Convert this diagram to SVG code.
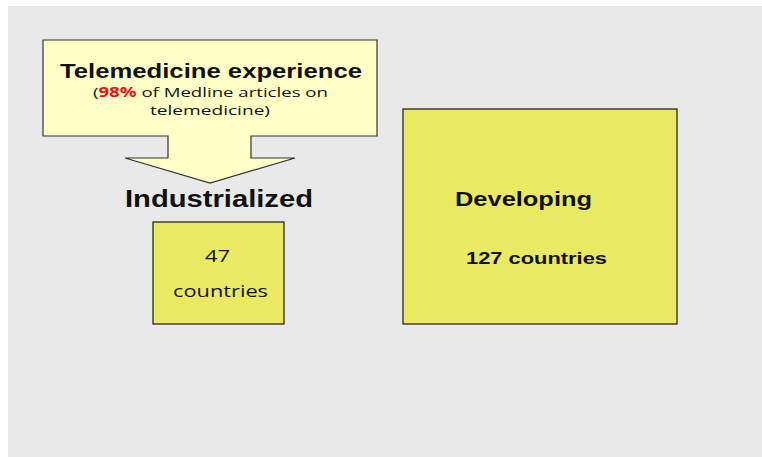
<svg xmlns="http://www.w3.org/2000/svg" width="762" height="457" viewBox="0 0 762 457">
<style>
.box{fill:#E9EA61;stroke:#1a1a1a;stroke-width:1.2}
.callout{fill:#FFFFC6;stroke:#333;stroke-width:1.2}
.t{font-family:"Open Sans","Liberation Sans",sans-serif;fill:#111}
.b{font-family:"Liberation Sans",Arial,sans-serif;font-weight:bold;fill:#111}
</style>
<rect x="0" y="0" width="762" height="457" fill="#ffffff"/>
<rect x="8" y="6" width="754" height="451" fill="#E9E9E9"/>
<g id="callout">
<path class="callout" d="M43,40 H377 V136 H251 V158 H295 L210,183 L125,158 H168 V136 H43 Z"/>
<text class="b" x="60" y="78" font-size="21" textLength="302" lengthAdjust="spacingAndGlyphs">Telemedicine experience</text>
<text class="t" x="93" y="97" font-size="13.5" textLength="235" lengthAdjust="spacingAndGlyphs">(<tspan fill="#ee1111" font-weight="bold">98%</tspan> of Medline articles on</text>
<text class="t" x="150" y="115" font-size="13.5" textLength="120" lengthAdjust="spacingAndGlyphs">telemedicine)</text>
</g>
<g id="industrialized-label">
<text class="b" x="125" y="207" font-size="23" textLength="188" lengthAdjust="spacingAndGlyphs">Industrialized</text>
</g>
<g id="industrialized">
<rect class="box" x="153" y="222" width="131" height="102"/>
<text class="t" x="205" y="262" font-size="17" textLength="25" lengthAdjust="spacingAndGlyphs">47</text>
<text class="t" x="173" y="297" font-size="17" textLength="95" lengthAdjust="spacingAndGlyphs">countries</text>
</g>
<g id="developing">
<rect class="box" x="403" y="109" width="274" height="215"/>
<text class="b" x="455" y="206" font-size="20" textLength="137" lengthAdjust="spacingAndGlyphs">Developing</text>
<text class="b" x="466" y="264" font-size="17" textLength="141" lengthAdjust="spacingAndGlyphs">127 countries</text>
</g>
<g id="connectors"></g>
</svg>
